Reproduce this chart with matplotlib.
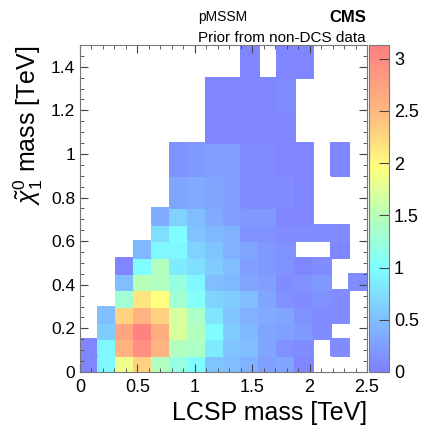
import numpy as np
import matplotlib
matplotlib.use("Agg")
import matplotlib.pyplot as plt
from matplotlib.colors import LinearSegmentedColormap
from matplotlib.ticker import MultipleLocator, FormatStrFormatter

plt.rcParams['font.family'] = ['Liberation Sans', 'DejaVu Sans']
plt.rcParams['mathtext.fontset'] = 'custom'
plt.rcParams['mathtext.rm'] = 'Liberation Sans'
plt.rcParams['mathtext.it'] = 'Liberation Sans:italic'

# bin edges (TeV)
x_edges = np.linspace(0, 2.5, 17)
y_edges = [0, 0.075, 0.15, 0.225, 0.3, 0.375, 0.45, 0.525, 0.6, 0.675, 0.75,
           0.9, 1.05, 1.2, 1.35, 1.5]

n = np.nan
# one row per y bin (bottom to top), one column per x bin
r0 = [0.05, 0.95, 1.85, 2.3, 1.45, 1.2, 1.0, 0.55, 0.5, 0.4, 0.25, 0.3, 0.05, n, n, n]
r1 = [0.05, 0.95, 2.55, 2.95, 2.55, 1.45, 1.4, 0.85, 0.55, 0.5, 0.3, 0.15, 0.1, n, 0.1, n]
r2 = [n, 0.6, 2.7, 3.1, 2.6, 1.7, 1.45, 1.0, 0.6, 0.45, 0.3, 0.25, 0.2, 0.1, n, n]
r3 = [n, 0.5, 2.3, 2.55, 2.3, 1.7, 1.4, 0.8, 0.55, 0.4, 0.35, 0.3, 0.15, 0.1, 0.1, n]
r4 = [n, n, 1.3, 2.15, 1.95, 1.3, 1.05, 0.65, 0.6, 0.5, 0.3, 0.15, 0.1, 0.15, 0.1, n]
r5 = [n, n, 0.5, 1.5, 1.45, 1.2, 0.95, 0.5, 0.45, 0.3, 0.25, 0.1, 0.15, 0.2, n, 0.1]
r6 = [n, n, 0.05, 1.0, 1.45, 0.85, 0.75, 0.6, 0.5, 0.25, 0.2, 0.15, 0.05, 0.1, n, n]
r7 = [n, n, n, 0.45, 0.95, 0.95, 0.65, 0.55, 0.4, 0.3, 0.2, 0.15, n, n, 0.05, n]
r8 = [n, n, n, n, 0.75, 1.0, 0.55, 0.45, 0.4, 0.15, 0.15, 0.1, 0.1, 0.1, 0.1, n]
r9 = [n, n, n, n, 0.35, 0.65, 0.5, 0.35, 0.25, 0.2, 0.2, 0.05, 0.05, n, n, n]
r10 = [n, n, n, n, n, 0.3, 0.35, 0.3, 0.25, 0.1, 0.1, 0.1, 0.05, n, n, n]
r11 = [n, n, n, n, n, 0.15, 0.2, 0.25, 0.25, 0.1, 0.1, 0.05, 0.05, n, 0.05, n]
r12 = [n, n, n, n, n, n, n, 0.05, 0.05, 0.05, 0.05, 0.05, n, n, n, n]
r13 = [n, n, n, n, n, n, n, 0.05, 0.05, 0.05, 0.05, 0.1, n, n, n, n]
r14 = [n, n, n, n, n, n, n, n, n, 0.05, n, 0.05, 0.05, n, n, n]

z = np.array([r0, r1, r2, r3, r4, r5, r6, r7, r8, r9, r10, r11, r12, r13, r14])

vmax = 3.13
# pastel rainbow, like the ROOT palette with transparency
stops = [(0.0, (0.5, 0.5, 1.0)),
         (0.5 / vmax, (0.5, 0.75, 1.0)),
         (1.0 / vmax, (0.5, 1.0, 1.0)),
         (1.5 / vmax, (0.72, 1.0, 0.72)),
         (1.95 / vmax, (1.0, 1.0, 0.5)),
         (2.5 / vmax, (1.0, 0.72, 0.5)),
         (1.0, (1.0, 0.5, 0.5))]
cmap = LinearSegmentedColormap.from_list("pastel", stops)

fig = plt.figure(figsize=(4.22, 4.29), dpi=100)
ax = fig.add_axes([0.1896, 0.1329, 0.6801, 0.7622])
cax = fig.add_axes([0.8744, 0.1329, 0.0474, 0.7622])

mesh = ax.pcolormesh(x_edges, y_edges, np.ma.masked_invalid(z), cmap=cmap,
                     vmin=0, vmax=vmax, edgecolors='face', linewidth=0.3)
ax.set_xlim(0, 2.5)
ax.set_ylim(0, 1.5)

ax.xaxis.set_major_locator(MultipleLocator(0.5))
ax.xaxis.set_minor_locator(MultipleLocator(0.1))
ax.yaxis.set_major_locator(MultipleLocator(0.2))
ax.yaxis.set_minor_locator(MultipleLocator(0.05))
ax.xaxis.set_major_formatter(FormatStrFormatter('%g'))
ax.yaxis.set_major_formatter(FormatStrFormatter('%g'))
ax.tick_params(which='both', direction='in', top=True, right=True,
               color='#444444')
ax.tick_params(axis='x', labelsize=13, pad=5)
ax.tick_params(axis='y', labelsize=12.5)
ax.tick_params(which='major', length=6)
ax.tick_params(which='minor', length=3)
for s in ax.spines.values():
    s.set_color('#777777')

ax.set_xlabel("LCSP mass [TeV]", loc='right', fontsize=18)
ax.set_ylabel(r"$\tilde{\chi}^{0}_{1}$ mass [TeV]", loc='top', fontsize=18)

cb = fig.colorbar(mesh, cax=cax)
cb.set_ticks([0, 0.5, 1, 1.5, 2, 2.5, 3])
cb.ax.yaxis.set_major_formatter(FormatStrFormatter('%g'))
cb.ax.minorticks_off()
cb.ax.tick_params(direction='in', length=7, labelsize=13, color='#444444')
cb.outline.set_edgecolor('#777777')

fig.text(0.869, 0.949, "CMS", ha='right', va='baseline', fontsize=12, fontweight='bold')
fig.text(0.469, 0.952, "pMSSM", ha='left', va='baseline', fontsize=10)
fig.text(0.867, 0.903, "Prior from non-DCS data", ha='right', va='baseline', fontsize=11)

fig.savefig("out.png", dpi=100)
